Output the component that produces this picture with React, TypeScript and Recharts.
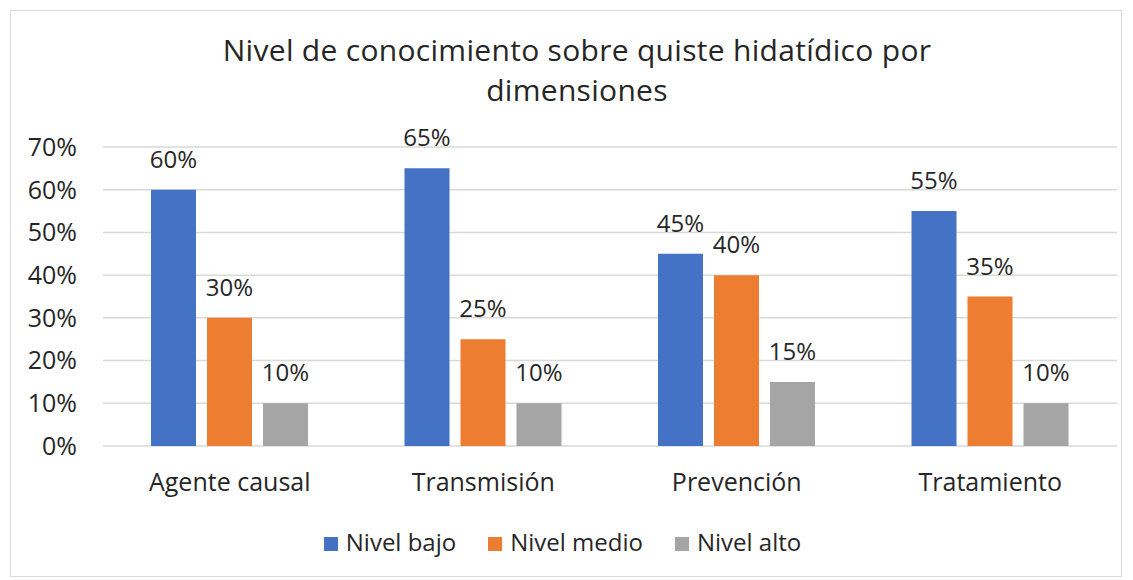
import React from 'react';
import { BarChart, Bar, XAxis, YAxis, CartesianGrid, LabelList } from 'recharts';

const categories = ['Agente causal', 'Transmisión', 'Prevención', 'Tratamiento'];
const nivelBajo = [60, 65, 45, 55];
const nivelMedio = [30, 25, 40, 35];
const nivelAlto = [10, 10, 15, 10];
const yTicks = [0, 10, 20, 30, 40, 50, 60, 70];

const series = [
    { key: 'bajo', name: 'Nivel bajo', color: '#4472C4' },
    { key: 'medio', name: 'Nivel medio', color: '#ED7D31' },
    { key: 'alto', name: 'Nivel alto', color: '#A5A5A5' },
];

const data = categories.map((name, i) => ({
    name,
    bajo: nivelBajo[i],
    medio: nivelMedio[i],
    alto: nivelAlto[i],
}));

const FONT = '"Open Sans", sans-serif';
const TEXT = '#262626';

const App: React.FC = () => {
    return (
        <div style={{ position: 'relative', width: 1117, height: 572, fontFamily: FONT }}>
            <div style={{ position: 'absolute', left: 2, top: 2, width: 1110, height: 565, border: '1px solid #d9d9d9' }} />
            <div
                style={{
                    position: 'absolute', left: 0, width: 1138, top: 22, textAlign: 'center',
                    fontSize: 30, lineHeight: '40px', letterSpacing: 0.3, color: TEXT,
                }}
            >
                Nivel de conocimiento sobre quiste hidatídico por<br />dimensiones
            </div>
            <BarChart
                width={1117}
                height={572}
                data={data}
                margin={{ top: 139, right: 8, left: 0, bottom: 104 }}
                barSize={45}
                barGap={11}
                style={{ position: 'absolute', left: 0, top: 0 }}
            >
                <CartesianGrid vertical={false} stroke="#d9d9d9" strokeWidth={1.5} />
                <XAxis
                    dataKey="name"
                    axisLine={false}
                    tickLine={false}
                    tickMargin={21}
                    tick={{ fill: TEXT, fontSize: 25, fontFamily: FONT }}
                />
                <YAxis
                    domain={[0, 70]}
                    ticks={yTicks}
                    width={95}
                    axisLine={false}
                    tickLine={false}
                    tickMargin={20}
                    tickFormatter={(v: number) => `${v}%`}
                    tick={{ fill: TEXT, fontSize: 25, fontFamily: FONT }}
                />
                {series.map((s) => (
                    <Bar key={s.key} dataKey={s.key} name={s.name} fill={s.color} isAnimationActive={false}>
                        <LabelList
                            dataKey={s.key}
                            position="top"
                            offset={22}
                            formatter={(v: number) => `${v}%`}
                            style={{ fill: TEXT, fontSize: 24, fontFamily: FONT }}
                        />
                    </Bar>
                ))}
            </BarChart>
            <div
                style={{
                    position: 'absolute', left: 0, width: 1109, top: 517, display: 'flex',
                    justifyContent: 'center', alignItems: 'baseline', fontSize: 24, color: TEXT,
                }}
            >
                {series.map((s) => (
                    <div key={s.key} style={{ display: 'flex', alignItems: 'baseline', margin: '0 16px' }}>
                        <span style={{ width: 14, height: 14, background: s.color, marginRight: 8, display: 'inline-block' }} />
                        <span>{s.name}</span>
                    </div>
                ))}
            </div>
        </div>
    );
};

export default App;
